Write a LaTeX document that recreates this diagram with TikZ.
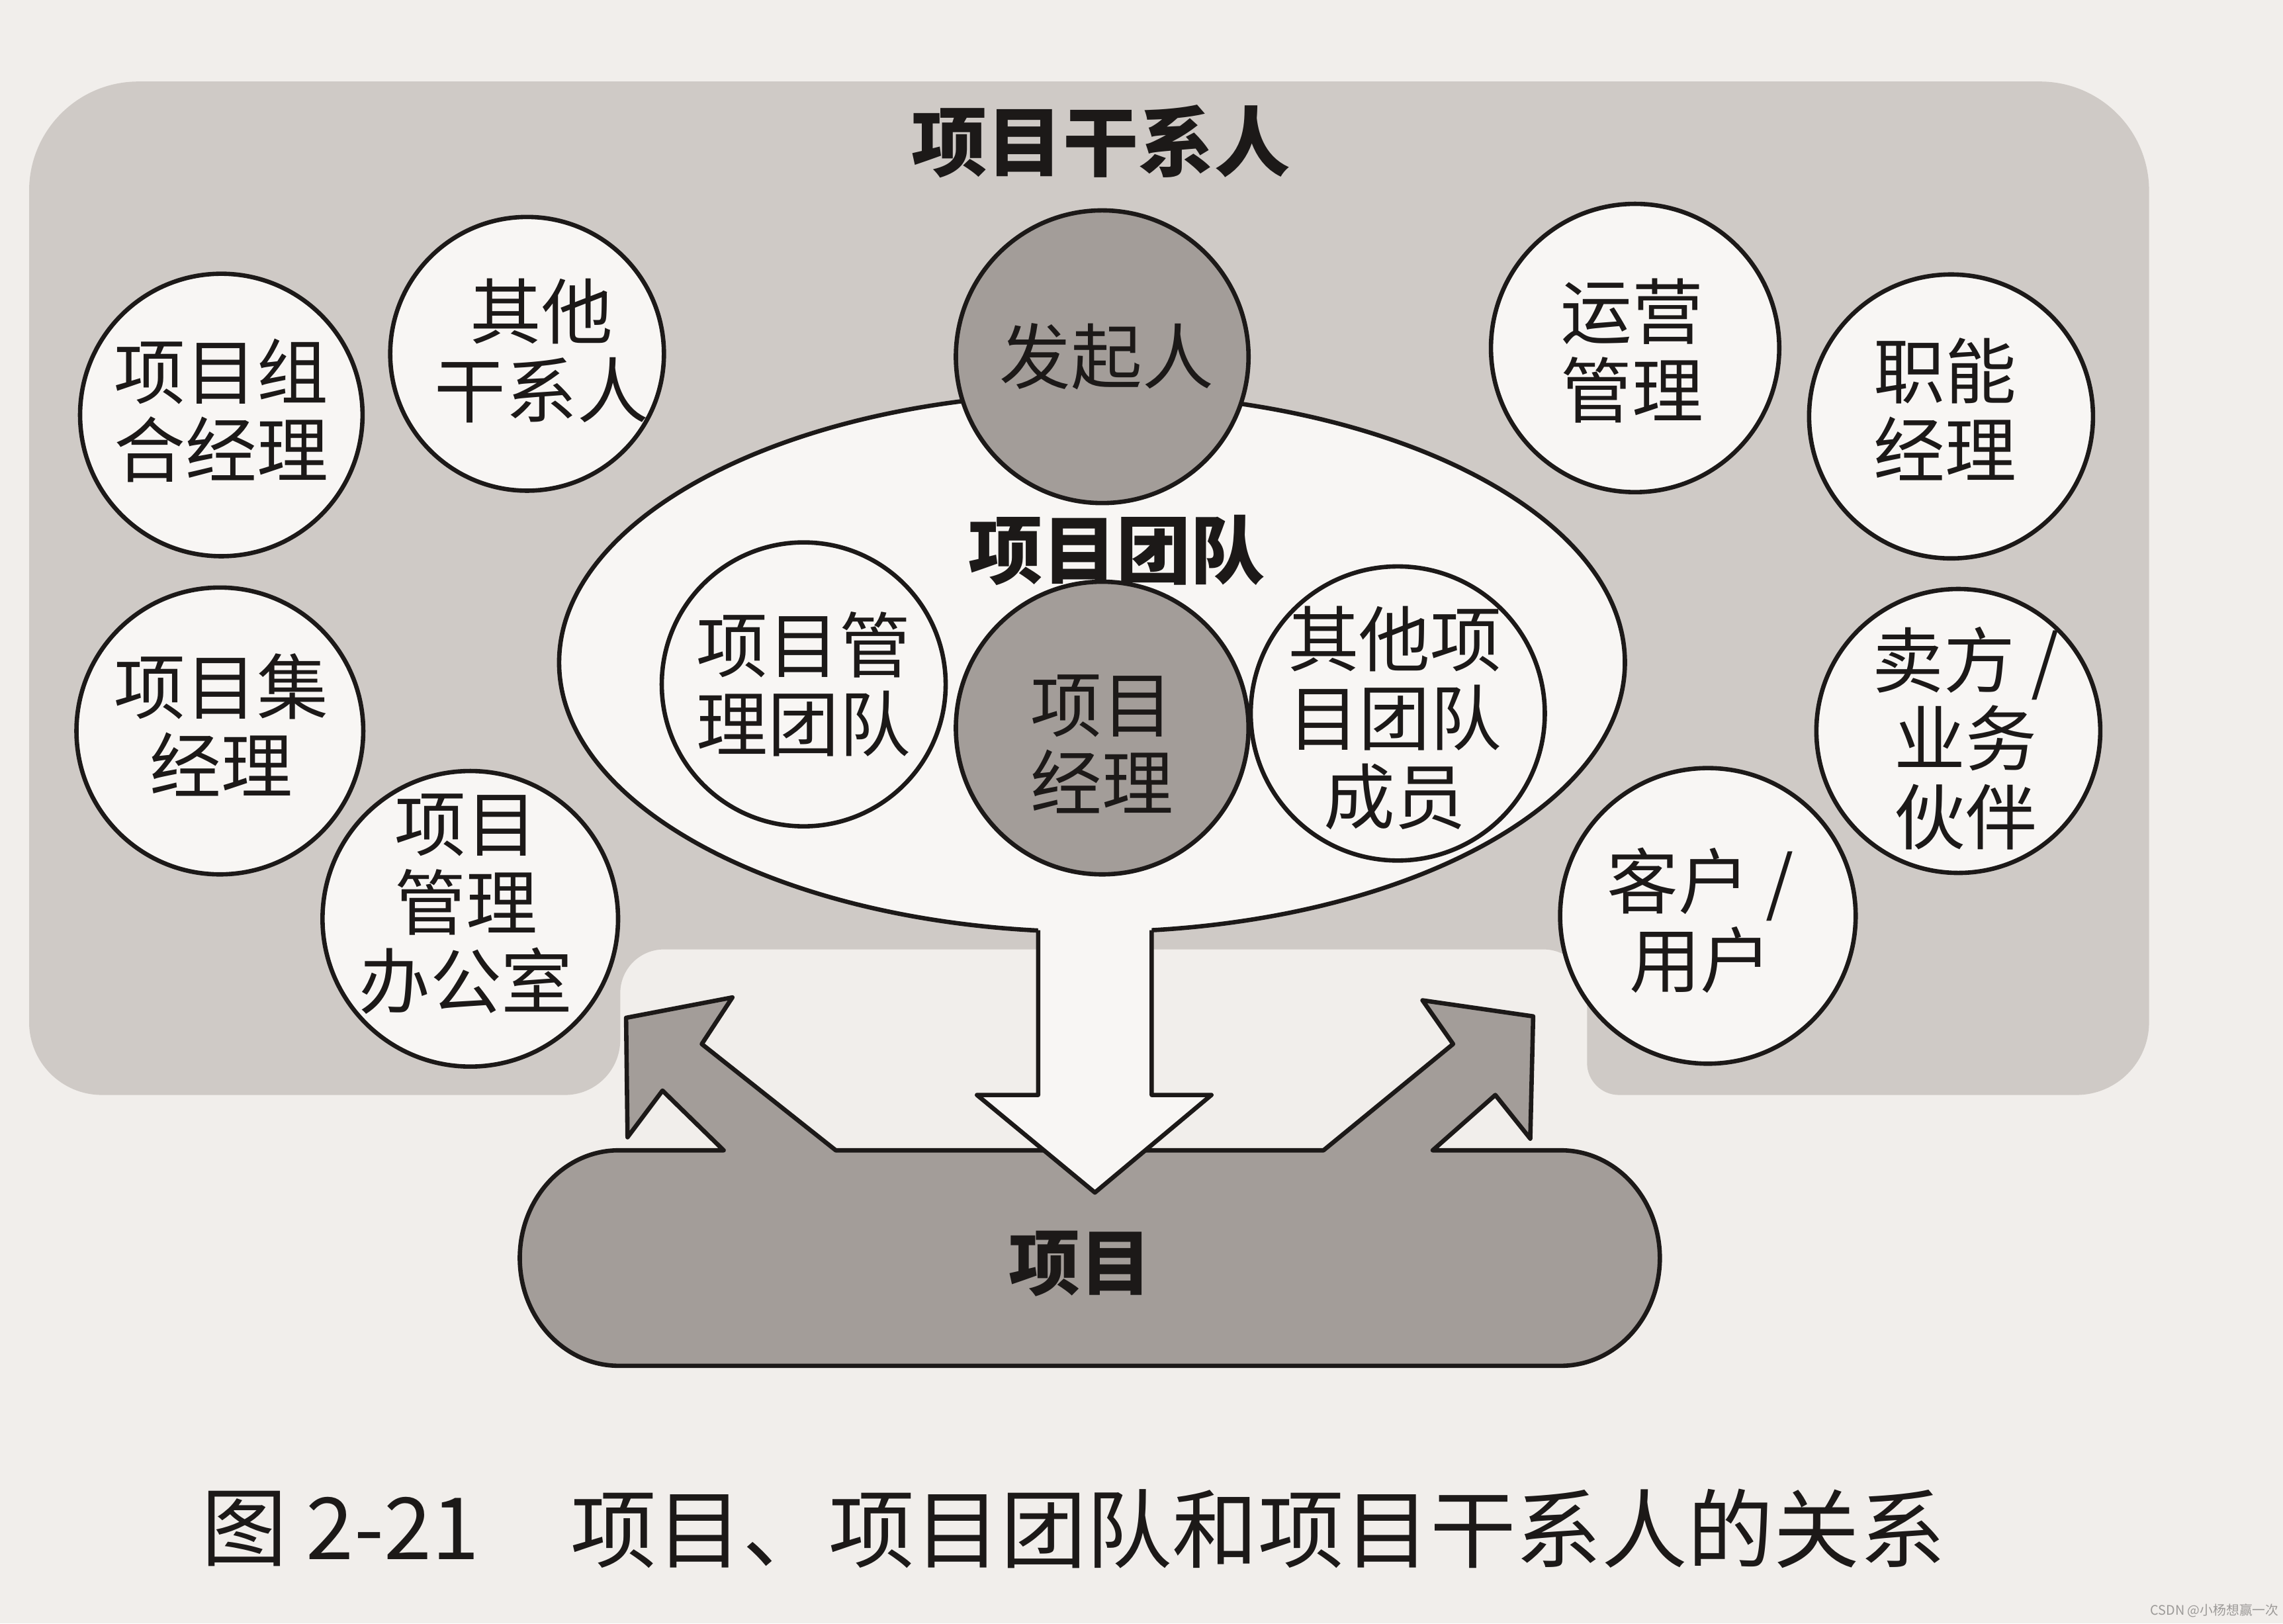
\documentclass[tikz,border=0pt]{standalone}
\usepackage{fontspec}
\setmainfont{Noto Sans CJK SC}
\usetikzlibrary{shapes.geometric}

\definecolor{paper}{HTML}{F1EEEB}
\definecolor{zone}{HTML}{CFCAC6}
\definecolor{shade}{HTML}{A39D99}
\definecolor{bright}{HTML}{F8F6F4}
\definecolor{ink}{HTML}{1C1918}
\definecolor{mark}{HTML}{9C9A98}

\tikzset{
  outline/.style={draw=ink, line width=3pt, line join=round},
  party/.style={circle, outline, fill=bright, inner sep=0pt},
  core/.style={circle, outline, fill=shade, inner sep=0pt},
  words/.style={align=center, text=ink, inner sep=0pt,
    font=\fontsize{49}{54}\selectfont},
  heading/.style={text=ink, inner sep=0pt,
    font=\fontsize{52}{60}\selectfont\bfseries},
  caption/.style={text=ink, inner sep=0pt, anchor=west,
    font=\fontsize{59}{64}\selectfont},
}

\begin{document}
\begin{tikzpicture}[x=1pt,y=-1pt]
\useasboundingbox (0,0) rectangle (1568,1115);
\fill[paper] (0,0) rectangle (1568,1115);

% shaded stakeholder zone, open at the bottom around the arrows
\fill[zone] (95,56) -- (1401,56)
  arc[start angle=270, end angle=360, radius=75] -- (1476,702)
  arc[start angle=0, end angle=90, radius=50] -- (1112,752)
  arc[start angle=90, end angle=180, radius=22] -- (1090,682)
  arc[start angle=0, end angle=-90, radius=30] -- (456,652)
  arc[start angle=-90, end angle=-180, radius=30] -- (426,714)
  arc[start angle=0, end angle=90, radius=38] -- (70,752)
  arc[start angle=90, end angle=180, radius=50] -- (20,131)
  arc[start angle=180, end angle=270, radius=75] -- cycle;

% the project block together with its two outgoing arrows
\draw[outline, fill=shade] (425,790) -- (497,790) -- (455,749) -- (431,781)
  -- (430,699) -- (503,685) -- (482,717) -- (574,790)
  -- (909,790) -- (998,717) -- (977,687) -- (1053,698) -- (1051,782)
  -- (1027,752) -- (984,790) -- (1072,790)
  arc[start angle=-90, end angle=90, x radius=68, y radius=74]
  -- (425,938)
  arc[start angle=90, end angle=270, x radius=68, y radius=74] -- cycle;
\node[heading, font=\fontsize{49}{56}\selectfont\bfseries] (project) at (742,868) {项目};

% project team ellipse
\node[ellipse, outline, fill=bright, inner sep=0pt,
      minimum width=732pt, minimum height=370pt] (team) at (750,455) {};

% arrow from the team down into the project
\fill[bright] (713,628) -- (713,752) -- (671,752) -- (752,819) -- (832,752)
  -- (791,752) -- (791,628) -- cycle;
\draw[outline] (713,638.8) -- (713,752) -- (671,752) -- (752,819)
  -- (832,752) -- (791,752) -- (791,638.8);

% headings
\node[heading] (stakeholders) at (756,97) {项目干系人};
\node[heading, font=\fontsize{51}{58}\selectfont\bfseries] (teamlabel) at (767,378) {项目团队};

% stakeholders on the left
\node[party, minimum size=194pt] (pfm) at (152,285) {};
\node[words] (pfm-t) at (152,282) {项目组\\合经理};
\node[party, minimum size=188pt] (other) at (362,243) {};
\node[words] (other-t) at (372,241) {其他\\干系人};
\node[party, minimum size=197pt] (prgm) at (151,502) {};
\node[words] (prgm-t) at (152,498) {项目集\\经理};
\node[party, minimum size=203pt] (pmo) at (323,631) {};
\node[words] (pmo-t) at (320,621) {项目\\管理\\办公室};

% core team members
\node[core, minimum size=201pt] (sponsor) at (757,245) {};
\node[words] (sponsor-t) at (760,245) {发起人};
\node[party, minimum size=195pt] (pmteam) at (552,470) {};
\node[words] (pmteam-t) at (552,470) {项目管\\理团队};
\node[core, minimum size=201pt] (pm) at (757,500) {};
\node[words] (pm-t) at (757,511) {项目\\经理};
\node[party, minimum size=202pt] (members) at (960,490) {};
\node[words] (members-t) at (958,493) {其他项\\目团队\\成员};

% stakeholders on the right
\node[party, minimum size=198pt] (ops) at (1123,239) {};
\node[words] (ops-t) at (1121,241) {运营\\管理};
\node[party, minimum size=195pt] (func) at (1340,286) {};
\node[words] (func-t) at (1336,281) {职能\\经理};
\node[party, minimum size=195pt] (seller) at (1345,502) {};
\node[words] (seller-t) at (1350,507) {卖方 /\\业务\\伙伴};
\node[party, minimum size=203pt] (customer) at (1173,629) {};
\node[words] (customer-t) at (1168,632) {客户 /\\用户};

% caption and watermark
\node[caption] (cap-num) at (138,1050) {图 2-21};
\node[caption] (cap-text) at (392,1050) {项目、项目团队和项目干系人的关系};
\node[text=mark, inner sep=0pt, font=\fontsize{9}{10}\selectfont]
  (credit) at (1521,1106) {CSDN @小杨想赢一次};
\end{tikzpicture}
\end{document}
